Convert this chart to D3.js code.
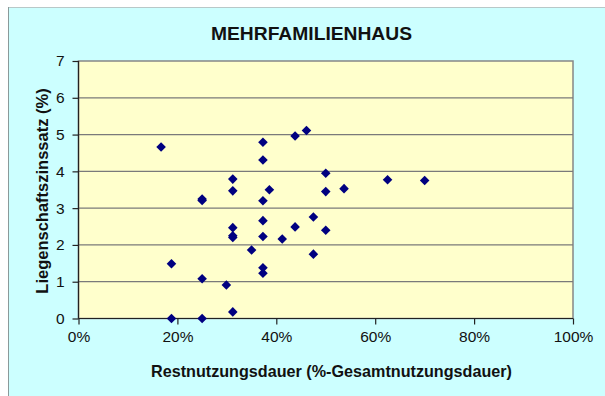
<!DOCTYPE html>
<html>
<head>
<meta charset="utf-8">
<script src="https://cdn.jsdelivr.net/npm/d3@7"></script>
<style>
  html, body { margin: 0; padding: 0; background: #ffffff; }
  svg { display: block; }
  text { font-family: "Liberation Sans", Arial, sans-serif; }
</style>
</head>
<body>
<svg id="chart" width="605" height="396"></svg>
<script>
// Restnutzungsdauer in % der Gesamtnutzungsdauer
const restnutzung = [
  16.7, 37.3, 43.8, 46.1, 37.3, 31.2, 31.2, 38.6, 25.0, 25.0,
  37.3, 37.3, 47.5, 31.2, 43.8, 31.2, 31.2, 37.3, 41.2, 35.0,
  47.5, 18.8, 37.3, 37.3, 25.0, 29.9, 18.8, 25.0, 31.2, 50.0,
  50.0, 53.7, 62.5, 70.0, 50.0
];
// Liegenschaftszinssatz in %
const zinssatz = [
  4.66, 4.79, 4.96, 5.11, 4.31, 3.79, 3.47, 3.50, 3.21, 3.25,
  3.20, 2.66, 2.76, 2.47, 2.49, 2.20, 2.25, 2.23, 2.16, 1.86,
  1.75, 1.49, 1.38, 1.23, 1.08, 0.91, 0.00, 0.00, 0.18, 3.95,
  3.45, 3.53, 3.77, 3.75, 2.40
];
const xTicks = [0, 20, 40, 60, 80, 100];
const yTicks = [0, 1, 2, 3, 4, 5, 6, 7];
const title = "MEHRFAMILIENHAUS";
const xTitle = "Restnutzungsdauer (%-Gesamtnutzungsdauer)";
const yTitle = "Liegenschaftszinssatz (%)";

const svg = d3.select("#chart");

// chart background frame
svg.append("rect").attr("x", 8).attr("y", 7).attr("width", 597).attr("height", 389)
  .attr("fill", "#ccffff");
svg.append("line").attr("x1", 8).attr("x2", 605).attr("y1", 7.5).attr("y2", 7.5)
  .attr("stroke", "#b8c8c8").attr("stroke-width", 1);
svg.append("line").attr("x1", 8.5).attr("x2", 8.5).attr("y1", 7).attr("y2", 396)
  .attr("stroke", "#8a9a9a").attr("stroke-width", 1);

const plotLeft = 78.5, plotRight = 573, plotTop = 61, plotBottom = 318.5;
const x = d3.scaleLinear().domain([0, 100]).range([plotLeft, plotRight]);
const y = d3.scaleLinear().domain([0, 7]).range([plotBottom, plotTop]);

// plot area
svg.append("rect").attr("x", plotLeft).attr("y", plotTop)
  .attr("width", plotRight - plotLeft).attr("height", plotBottom - plotTop)
  .attr("fill", "#ffffcc").attr("stroke", "#868686").attr("stroke-width", 1.5);

// horizontal gridlines
svg.append("g").selectAll("line").data(yTicks.filter(d => d > 0 && d < 7)).join("line")
  .attr("x1", plotLeft).attr("x2", plotRight)
  .attr("y1", d => y(d)).attr("y2", d => y(d))
  .attr("stroke", "#7a7a7a").attr("stroke-width", 1.3);

// axes
const yAxis = svg.append("g").attr("transform", `translate(${plotLeft},0)`)
  .call(d3.axisLeft(y).tickValues(yTicks).tickSize(6).tickPadding(8).tickFormat(d3.format("d")));
const xAxis = svg.append("g").attr("transform", `translate(0,${plotBottom})`)
  .call(d3.axisBottom(x).tickValues(xTicks).tickSize(6).tickPadding(6).tickFormat(d => d + "%"));
[yAxis, xAxis].forEach(g => {
  g.select(".domain").attr("stroke", "#222").attr("stroke-width", 1.2);
  g.selectAll(".tick line").attr("stroke", "#222").attr("stroke-width", 1.2);
  g.selectAll(".tick text").attr("font-size", 15.5).attr("fill", "#111")
    .attr("font-family", "'Liberation Sans', Arial, sans-serif");
});
xAxis.select(".domain").attr("d", `M${plotLeft},0H${plotRight}`);
yAxis.select(".domain").attr("d", `M0,${plotBottom}V${plotTop}`);

// markers
const diamond = d3.symbol().type(d3.symbolSquare).size(46);
svg.append("g").selectAll("path").data(d3.zip(restnutzung, zinssatz)).join("path")
  .attr("d", diamond)
  .attr("transform", d => `translate(${x(d[0])},${y(d[1])}) rotate(45)`)
  .attr("fill", "#000080");

// titles
svg.append("text").attr("x", 311.5).attr("y", 40).attr("text-anchor", "middle")
  .attr("font-size", 18).attr("font-weight", "bold").attr("fill", "#111")
  .attr("textLength", 201).attr("lengthAdjust", "spacingAndGlyphs").text(title);
svg.append("text").attr("x", 331.5).attr("y", 377).attr("text-anchor", "middle")
  .attr("font-size", 16.5).attr("font-weight", "bold").attr("fill", "#111")
  .attr("textLength", 361).attr("lengthAdjust", "spacingAndGlyphs").text(xTitle);
svg.append("text").attr("transform", "translate(47.5,191) rotate(-90)").attr("text-anchor", "middle")
  .attr("font-size", 16.5).attr("font-weight", "bold").attr("fill", "#111")
  .text(yTitle);
</script>
</body>
</html>
